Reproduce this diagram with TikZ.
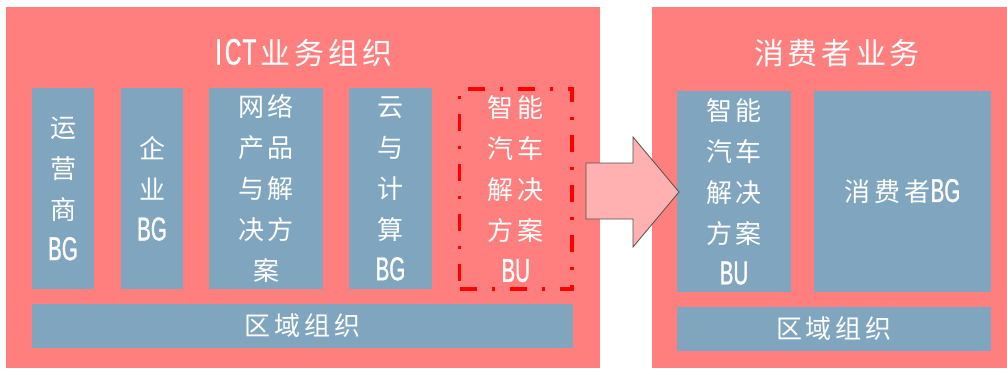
\documentclass[tikz,border=0pt]{standalone}
\usepackage{fontspec}
\setmainfont{Noto Sans CJK SC}
\newfontfamily\latn[FakeStretch=0.62,FakeBold=1]{Liberation Sans}
\definecolor{panelpink}{RGB}{255,127,127}
\definecolor{unitblue}{RGB}{128,165,190}
\definecolor{arrowfill}{RGB}{255,176,176}
\definecolor{arrowline}{RGB}{80,80,80}
\definecolor{dashred}{RGB}{255,0,0}
\newcommand\cjs{\hspace{4pt}}
\newcommand\latbg[1]{{\latn\fontsize{33}{41}\selectfont #1}}
\begin{document}
\begin{tikzpicture}[x=1pt,y=-1pt,
  panelbox/.style={fill=panelpink, draw=none, inner sep=0pt, outer sep=0pt},
  unitbox/.style={fill=unitblue, draw=none, inner sep=0pt, outer sep=0pt, align=center, text=white, font=\fontsize{26}{41}\selectfont},
  movedbox/.style={draw=dashred, line width=3.5pt, dash pattern=on 17pt off 15pt on 3pt off 15pt, inner sep=0pt, outer sep=0pt, align=center, text=white, font=\fontsize{26}{41}\selectfont},
  titletext/.style={text=white, inner sep=0pt, font=\fontsize{30}{34}\selectfont},
  movearrow/.style={fill=arrowfill, draw=arrowline, line width=0.8pt, line join=miter}]
\useasboundingbox (0,0) rectangle (1007,369);
\fill[white] (0,0) rectangle (1007,369);
% panels
\node[panelbox, minimum width=594pt, minimum height=361pt] (ict) at (303,187.5) {};
\node[panelbox, minimum width=355pt, minimum height=361pt] (cons) at (829.5,187.5) {};
% titles
\node[titletext] (ictt) at (304,53) {{\latn\fontsize{37}{37}\selectfont I\hspace{3pt}C\hspace{1pt}T}\cjs 业\cjs 务\cjs 组\cjs 织};
\node[titletext] (const) at (837,53) {消\cjs 费\cjs 者\cjs 业\cjs 务};
% left units
\node[unitbox, minimum width=62pt, minimum height=201pt] (yys) at (63,188.5) {运\\营\\商\\\latbg{BG}};
\node[unitbox, minimum width=62pt, minimum height=201pt] (qy) at (152,188.5) {企\\业\\\latbg{BG}};
\node[unitbox, minimum width=114pt, minimum height=201pt] (wl) at (266,188.5) {网\cjs 络\\产\cjs 品\\与\cjs 解\\决\cjs 方\\案};
\node[unitbox, minimum width=83pt, minimum height=201pt] (yun) at (390.5,188.5) {云\\与\\计\\算\\\latbg{BG}};
\node[movedbox, minimum width=112.5pt, minimum height=200pt] (car) at (515.75,189) {智\cjs 能\\汽\cjs 车\\解\cjs 决\\方\cjs 案\\\latbg{BU}};
\node[unitbox, minimum width=541pt, minimum height=44pt] (regl) at (302.5,326) {区\cjs 域\cjs 组\cjs 织};
% right units
\node[unitbox, minimum width=114pt, minimum height=201pt] (carr) at (734,191.5) {智\cjs 能\\汽\cjs 车\\解\cjs 决\\方\cjs 案\\\latbg{BU}};
\node[unitbox, minimum width=177pt, minimum height=201pt] (cbg) at (902.5,191.5) {消\cjs 费\cjs 者\latbg{BG}};
\node[unitbox, minimum width=314pt, minimum height=44pt] (regr) at (834,329) {区\cjs 域\cjs 组\cjs 织};
% arrow
\draw[movearrow] (586,163) -- (633,163) -- (633,137) -- (679,192) -- (633,247) -- (633,219) -- (586,219) -- cycle;
\end{tikzpicture}
\end{document}
